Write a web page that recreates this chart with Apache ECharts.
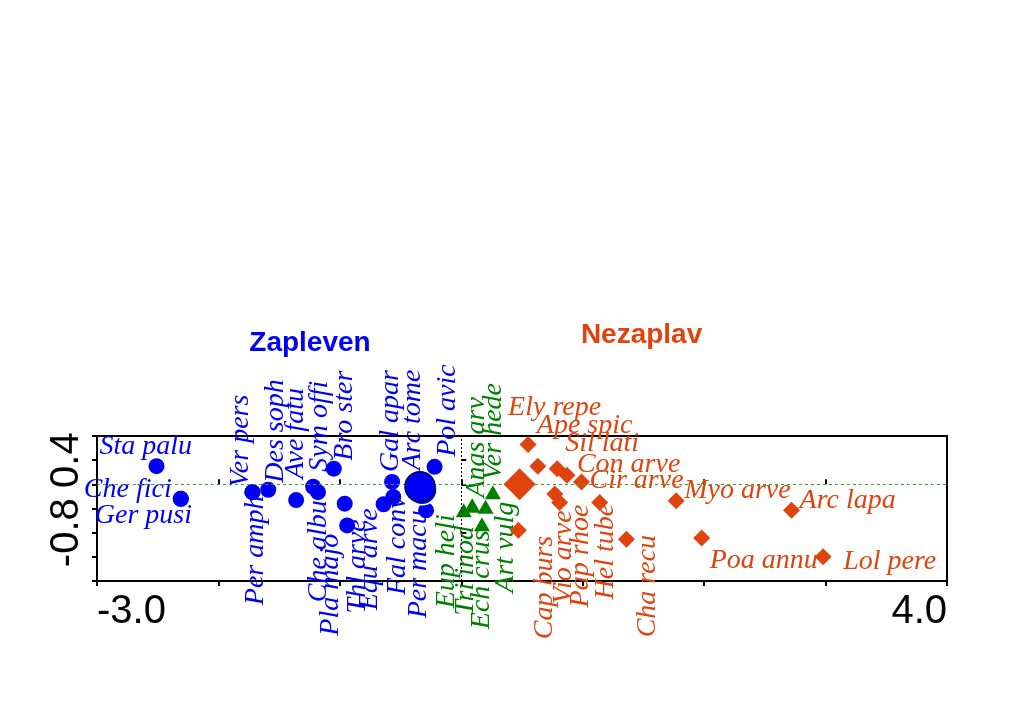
<!DOCTYPE html>
<html><head><meta charset="utf-8">
<script src="https://cdn.jsdelivr.net/npm/echarts@6/dist/echarts.min.js"></script>
<style>html,body{margin:0;padding:0;background:#fff}#c{width:1024px;height:718px}</style>
</head><body><div id="c"></div>
<script>
// ---- data ----
const zaplevenNames = ['Sta palu','Che fici','Ger pusi','Ver pers','Per amph','Des soph','Ave fatu','Sym offi','Che albu','Bro ster','Pla majo','Thl arve','Equ arve','Fal conv','Gal apar','Arc tome','Pol avic','Per macu'];
const zaplevenX = [-2.51,-2.31,-2.31,-1.72,-1.72,-1.59,-1.36,-1.22,-1.18,-1.05,-0.96,-0.94,-0.64,-0.56,-0.57,-0.34,-0.22,-0.29];
const zaplevenY = [0.30,-0.24,-0.24,-0.13,-0.13,-0.09,-0.26,-0.04,-0.13,0.26,-0.32,-0.68,-0.33,-0.21,0.04,0.00,0.29,-0.43];

const neutralNames = ['Eup heli','Tri inod','Anas arv','Ech crus','Art vulg','Ver hede'];
const neutralX = [0.02,0.09,0.09,0.17,0.20,0.26];
const neutralY = [-0.43,-0.35,-0.35,-0.66,-0.37,-0.13];

const nezaplavNames = ['Ely repe','Ape spic','Sil lati','Con arve','Cir arve','Cap burs','Vio arve','Pap rhoe','Hel tube','Cha recu','Myo arve','Poa annu','Arc lapa','Lol pere'];
const nezaplavX = [0.55,0.63,0.79,0.87,0.99,0.47,0.77,0.81,1.14,1.36,1.77,1.98,2.72,2.98];
const nezaplavY = [0.66,0.30,0.26,0.15,0.04,-0.76,-0.16,-0.30,-0.30,-0.91,-0.27,-0.89,-0.43,-1.20];

const centroidNames = ['Zapleven','Nezaplav'];
const centroidX = [-0.34, 0.48];
const centroidY = [-0.04, 0.00];

const xTickLabels = {'-3':'-3.0','4':'4.0'};
const yTickLabels = {'0.4':'0.4','-0.8':'-0.8'};

// ---- styling ----
const BLUE = '#0000F5', GREEN = '#008000', ORANGE = '#E0440E';
// label placement: [vertical, dx, dy] in pixels relative to the point
const labelLayout = {
 'Sta palu':[0,-57,-20],'Che fici':[0,-97,-9],'Ger pusi':[0,-86,17],'Ver pers':[1,-12,-5],'Per amph':[1,3,113],
 'Des soph':[1,7,-7],'Ave fatu':[1,-1,-21],'Sym offi':[1,6,-15],'Che albu':[1,1,110],'Bro ster':[1,11,-8],
 'Pla majo':[1,-14,132],'Thl arve':[1,10,88],'Equ arve':[1,-14,106],'Fal conv':[1,4,98],'Gal apar':[1,-1,-10],
 'Arc tome':[1,-7,-14],'Pol avic':[1,13,-10],'Per macu':[1,-7,108],
 'Eup heli':[1,-17,98],'Tri inod':[1,-7,110],'Anas arv':[1,4,-8],'Ech crus':[1,0,105],'Art vulg':[1,20,86],'Ver hede':[1,1,-12],
 'Ely repe':[0,-20,-37],'Ape spic':[0,-1,-41],'Sil lati':[0,8,-25],'Con arve':[0,10,-11],'Cir arve':[0,8,-1],
 'Cap burs':[1,26,109],'Vio arve':[1,9,110],'Pap rhoe':[1,21,105],'Hel tube':[1,6,97],'Cha recu':[1,21,98],
 'Myo arve':[0,8,-10],'Arc lapa':[0,8,-10],'Poa annu':[0,8,23],'Lol pere':[0,20,5],
 'Zapleven':[0,-110,-143],'Nezaplav':[0,122,-149]
};
const SPECIES_FONT = 'italic 28px "Liberation Serif"';
const TITLE_FONT = 'bold 28px "Liberation Sans"';

function zip(xs, ys){ return xs.map((x,i)=>[x, ys[i]]); }

const labelItems = [];
zaplevenNames.forEach((n,i)=>labelItems.push({name:n,x:zaplevenX[i],y:zaplevenY[i],color:BLUE,title:false}));
neutralNames.forEach((n,i)=>labelItems.push({name:n,x:neutralX[i],y:neutralY[i],color:GREEN,title:false}));
nezaplavNames.forEach((n,i)=>labelItems.push({name:n,x:nezaplavX[i],y:nezaplavY[i],color:ORANGE,title:false}));
centroidNames.forEach((n,i)=>labelItems.push({name:n,x:centroidX[i],y:centroidY[i],color:i===0?BLUE:ORANGE,title:true}));

const chart = echarts.init(document.getElementById('c'), null, {renderer:'canvas'});
const axisFont = {fontSize:40, fontFamily:'"Liberation Sans", Arial', color:'#000'};
function near(v,t){return Math.abs(v-t)<1e-6;}

chart.setOption({
  animation:false,
  backgroundColor:'#fff',
  grid:{left:97, right:77, top:436, bottom:137, show:true, borderColor:'#000', borderWidth:2, backgroundColor:'transparent'},
  xAxis:[{
    type:'value', min:-3, max:4, interval:1, position:'bottom',
    axisLine:{show:true, onZero:false, lineStyle:{color:'#000', width:2}},
    axisTick:{show:true, length:5, lineStyle:{color:'#000', width:2}},
    splitLine:{show:false},
    axisLabel:Object.assign({margin:11, showMinLabel:true, showMaxLabel:true, alignMinLabel:'left', alignMaxLabel:'right',
      formatter:v=>{for(const k in xTickLabels){ if(near(v,+k)) return xTickLabels[k]; } return '';}}, axisFont)
  },{
    type:'value', min:-3, max:4, interval:1, position:'bottom',
    axisLine:{show:false}, axisTick:{show:true, inside:true, length:5, lineStyle:{color:'#000', width:2}},
    splitLine:{show:false}, axisLabel:{show:false}
  }],
  yAxis:[{
    type:'value', min:-1.6, max:0.8, interval:0.4, position:'left',
    axisLine:{show:true, onZero:false, lineStyle:{color:'#000', width:2}},
    axisTick:{show:true, length:5, lineStyle:{color:'#000', width:2}},
    splitLine:{show:false},
    axisLabel:Object.assign({margin:10, rotate:90,
      formatter:v=>{for(const k in yTickLabels){ if(near(v,+k)) return yTickLabels[k]; } return '';}}, axisFont)
  },{
    type:'value', min:-1.6, max:0.8, interval:0.4, position:'left',
    axisLine:{show:false}, axisTick:{show:true, inside:true, length:5, lineStyle:{color:'#000', width:2}},
    splitLine:{show:false}, axisLabel:{show:false}
  }],
  series:[
    {
      type:'custom', name:'labels', z:2, clip:false, silent:true,
      data: labelItems.map(d=>[d.x, d.y]),
      renderItem:function(params, api){
        const it = labelItems[params.dataIndex];
        const p = api.coord([api.value(0), api.value(1)]);
        const lay = labelLayout[it.name];
        return {
          type:'text', x:p[0]+lay[1], y:p[1]+lay[2], rotation: lay[0] ? Math.PI/2 : 0,
          style:{text:it.name, fill:it.color, font: it.title ? TITLE_FONT : SPECIES_FONT,
                 align: it.title ? 'center' : 'left', verticalAlign:'middle'}
        };
      }
    },
    {
      type:'scatter', name:'Zapleven', z:3, symbol:'circle', symbolSize:16,
      itemStyle:{color:BLUE, opacity:1}, data: zip(zaplevenX, zaplevenY),
      markLine:{silent:true, symbol:'none', label:{show:false}, animation:false,
        data:[
          {yAxis:0, lineStyle:{color:'#3a9e3a', type:[3,3], width:1}},
          {xAxis:0, lineStyle:{color:'#000', type:[2,2], width:1}}
        ]}
    },
    {
      type:'scatter', name:'neutral', z:3, symbol:'triangle', symbolSize:[16,14],
      itemStyle:{color:GREEN, opacity:1}, data: zip(neutralX, neutralY)
    },
    {
      type:'scatter', name:'Nezaplav', z:3, symbol:'diamond', symbolSize:17,
      itemStyle:{color:ORANGE, opacity:1}, data: zip(nezaplavX, nezaplavY)
    },
    {
      type:'scatter', name:'centroidShadow', z:4, symbol:'circle', symbolSize:30, symbolOffset:[2,3],
      itemStyle:{color:BLUE, borderColor:'#fff', borderWidth:1.5, opacity:1},
      data: [[centroidX[0], centroidY[0]]]
    },
    {
      type:'scatter', name:'centroidZ', z:5, symbol:'circle', symbolSize:30,
      itemStyle:{color:BLUE, borderColor:'#00005a', borderWidth:1.5, opacity:1},
      data: [[centroidX[0], centroidY[0]]]
    },
    {
      type:'scatter', name:'centroidN', z:5, symbol:'diamond', symbolSize:32,
      itemStyle:{color:ORANGE, opacity:1},
      data: [[centroidX[1], centroidY[1]]]
    }
  ]
});
</script></body></html>
